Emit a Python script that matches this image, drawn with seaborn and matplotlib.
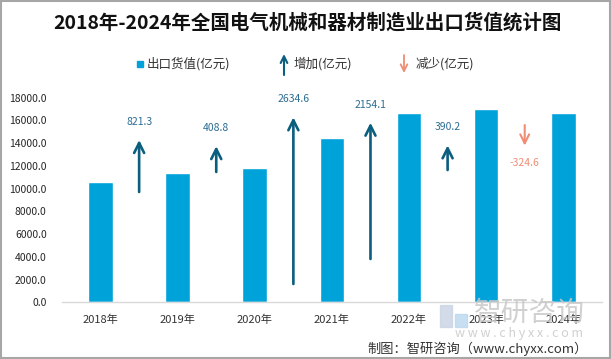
import numpy as np
import pandas as pd
import matplotlib
matplotlib.use('Agg')
import matplotlib.pyplot as plt
import seaborn as sns
from matplotlib.patches import Rectangle, FancyArrowPatch

years = ['2018年', '2019年', '2020年', '2021年', '2022年', '2023年', '2024年']
export_value = [10590.0, 11411.3, 11820.1, 14454.7, 16608.8, 16999.0, 16674.4]
change = [821.3, 408.8, 2634.6, 2154.1, 390.2, -324.6]
# start point of each arrow on the (hidden) secondary axis
arrow_start = [1746, 2062, 292, 687, 2093, 2804]
y_ticks = [0, 2000, 4000, 6000, 8000, 10000, 12000, 14000, 16000, 18000]

bar_color = '#00A2DA'
up_color = '#0B5E7E'
up_text = '#2B6C93'
down_color = '#F08C74'

sns.set_style('white')
plt.rcParams['font.family'] = ['Noto Sans CJK SC', 'DejaVu Sans']

df = pd.DataFrame({'year': years, 'value': export_value})

fig = plt.figure(figsize=(6.11, 3.59), dpi=100)
ax = fig.add_axes([0.1015, 0.1574, 0.8835, 0.571])

sns.barplot(data=df, x='year', y='value', color=bar_color, width=0.32,
            saturation=1, ax=ax)
ax.set_xlim(-0.5, 6.5)
ax.set_ylim(0, 18000)
ax.set_yticks(y_ticks)
ax.set_yticklabels([f'{v:.1f}' for v in y_ticks])
ax.set_xlabel('')
ax.set_ylabel('')
ax.tick_params(axis='y', length=0, pad=11, labelsize=7.5, labelcolor='#262626')
ax.tick_params(axis='x', length=0, pad=9, labelsize=8, labelcolor='#333333')
for s in ['top', 'right', 'left']:
    ax.spines[s].set_visible(False)
ax.spines['bottom'].set_color('#D9D9D9')
ax.spines['bottom'].set_linewidth(1)

# arrows for yearly change
ax2 = ax.twinx()
ax2.set_ylim(0, 3239)
ax2.axis('off')
for i, (d, s) in enumerate(zip(change, arrow_start)):
    xpos = i + 0.5
    e = s + d
    if d >= 0:
        ax2.annotate('', xy=(xpos, e), xytext=(xpos, s),
                     arrowprops=dict(arrowstyle='->', color=up_color, lw=1.9,
                                     mutation_scale=18, shrinkA=0, shrinkB=0))
        ax2.annotate(f'{d:.1f}', xy=(xpos, e), xytext=(0, 13),
                     textcoords='offset points', ha='center', va='center',
                     fontsize=7.5, color=up_text)
    else:
        ax2.annotate('', xy=(xpos, e), xytext=(xpos, s),
                     arrowprops=dict(arrowstyle='->', color=down_color, lw=1.5,
                                     mutation_scale=16, shrinkA=0, shrinkB=0))
        ax2.annotate(f'{d:.1f}', xy=(xpos, e), xytext=(0, -12.5),
                     textcoords='offset points', ha='center', va='center',
                     fontsize=7.5, color=down_color)

# title
fig.text(0.503, 0.938, '2018年-2024年全国电气机械和器材制造业出口货值统计图',
         ha='center', va='center', fontsize=14, fontweight='bold', color='#111111')

# legend
fig.add_artist(Rectangle((137 / 611, 1 - 67 / 359), 6 / 611, 6 / 359,
                         transform=fig.transFigure, color=bar_color))
fig.text(147 / 611, 1 - 64 / 359, '出口货值(亿元)', ha='left', va='center',
         fontsize=9, color='#333333')
fig.add_artist(FancyArrowPatch(
    (284 / 611, 1 - 75 / 359), (284 / 611, 1 - 54 / 359),
    transform=fig.transFigure, arrowstyle='->', color=up_color, lw=1.5,
    mutation_scale=12, shrinkA=0, shrinkB=0))
fig.text(294 / 611, 1 - 64 / 359, '增加(亿元)', ha='left', va='center',
         fontsize=9, color='#333333')
fig.add_artist(FancyArrowPatch(
    (404 / 611, 1 - 55 / 359), (404 / 611, 1 - 73 / 359),
    transform=fig.transFigure, arrowstyle='->', color=down_color, lw=1.3,
    mutation_scale=12, shrinkA=0, shrinkB=0))
fig.text(416 / 611, 1 - 64 / 359, '减少(亿元)', ha='left', va='center',
         fontsize=9, color='#333333')

# watermark
fig.add_artist(Rectangle((440 / 611, 1 - 327 / 359), 12 / 611, 22 / 359,
                         transform=fig.transFigure, color='#C9D3E3', alpha=0.8))
fig.add_artist(Rectangle((455 / 611, 1 - 327 / 359), 12 / 611, 13 / 359,
                         transform=fig.transFigure, color='#B9D8EE', alpha=0.8))
fig.text(529 / 611, 1 - 313 / 359, '智研咨询', ha='center', va='center',
         fontsize=20, color='#C8C8C8', alpha=0.85)
fig.text(519 / 611, 1 - 333 / 359, 'w w w . c h y x x . c o m', ha='center',
         va='center', fontsize=9, color='#C8C8C8', alpha=0.85)

# source
fig.text(588 / 611, 1 - 349 / 359, '制图：智研咨询（www.chyxx.com）', ha='right',
         va='center', fontsize=9.5, color='#333333')

# outer frame
fig.add_artist(Rectangle((0.001, 0.002), 0.997, 0.995, transform=fig.transFigure,
                         fill=False, edgecolor='#A6A6A6', lw=1.5))

fig.savefig('out.png', dpi=100)
